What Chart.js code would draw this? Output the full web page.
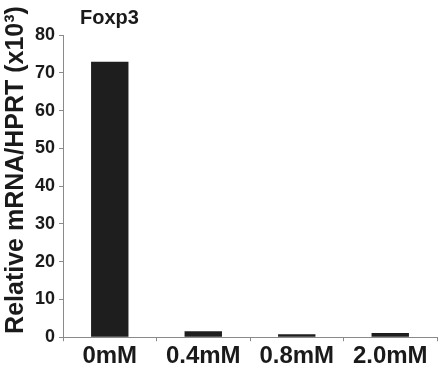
<!DOCTYPE html>
<html>
<head>
<meta charset="utf-8">
<script src="https://cdn.jsdelivr.net/npm/chart.js@4/dist/chart.umd.min.js"></script>
<style>
  html, body { margin: 0; padding: 0; background: #fff; }
  #wrap { width: 439px; height: 372px; }
</style>
</head>
<body>
<div id="wrap"><canvas id="myChart"></canvas></div>
<script>
const categories = ['0mM', '0.4mM', '0.8mM', '2.0mM'];
const foxp3Values = [72.9, 1.6, 0.8, 1.1];
const yTicks = [0, 10, 20, 30, 40, 50, 60, 70, 80];

const ink = '#1a1a1a';
const axisGrey = '#8a8a8a';
const fontFam = '"Liberation Sans", Arial, sans-serif';

// heading + rotated y title, placed like in the figure
const labelsPlugin = {
  id: 'figLabels',
  afterDraw(chart) {
    const c = chart.ctx;
    c.save();
    c.fillStyle = ink;
    c.textBaseline = 'middle';
    c.font = 'bold 20px ' + fontFam;
    c.fillText('Foxp3', chart.chartArea.left + 17, 18);

    c.font = 'bold 25px ' + fontFam;
    c.textAlign = 'center';
    c.translate(16, 170);
    c.rotate(-Math.PI / 2);
    c.fillText('Relative mRNA/HPRT (x10³)', 0, 0);
    c.restore();
  }
};

const ctx = document.getElementById('myChart').getContext('2d');

var myChart = new Chart(ctx, {
  type: 'bar',
  data: {
    labels: categories,
    datasets: [{
      label: 'Foxp3',
      data: foxp3Values,
      backgroundColor: '#1e1e1e',
      barPercentage: 0.4,
      categoryPercentage: 1.0
    }]
  },
  options: {
    responsive: true,
    maintainAspectRatio: false,
    animation: false,
    layout: { padding: { top: 35, right: 2, left: 31, bottom: 0 } },
    plugins: {
      legend: { display: false },
      tooltip: { enabled: false }
    },
    scales: {
      x: {
        grid: { drawOnChartArea: false, drawTicks: true, tickLength: 4, color: axisGrey },
        border: { color: axisGrey, width: 1 },
        ticks: {
          color: ink,
          padding: 1,
          font: { family: fontFam, size: 24, weight: 'bold' }
        }
      },
      y: {
        min: 0,
        max: 80,
        afterBuildTicks(axis) { axis.ticks = yTicks.map(v => ({ value: v })); },
        grid: { drawOnChartArea: false, drawTicks: true, tickLength: 4, color: axisGrey },
        border: { color: axisGrey, width: 1 },
        ticks: {
          color: ink,
          padding: 4,
          font: { family: fontFam, size: 18, weight: 'bold' }
        }
      }
    }
  },
  plugins: [labelsPlugin]
});
</script>
</body>
</html>
